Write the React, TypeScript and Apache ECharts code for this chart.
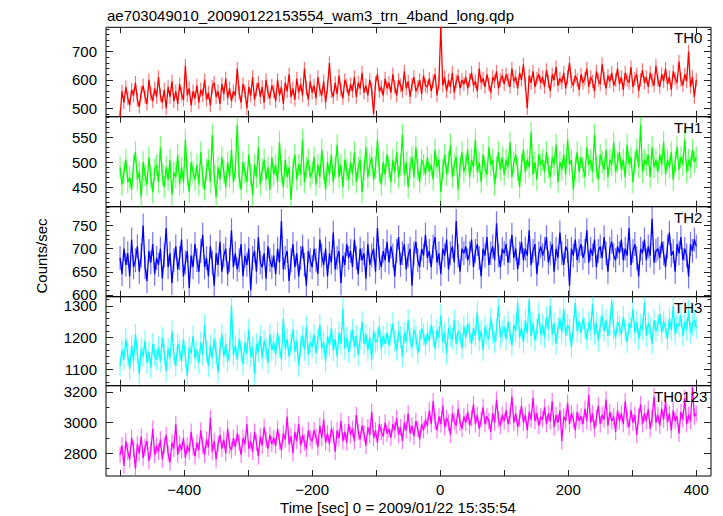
import React, { useEffect, useRef } from "react";
import * as echarts from "echarts";

// ---------- texts ----------
const TITLE = "ae703049010_20090122153554_wam3_trn_4band_long.qdp";
const X_LABEL = "Time [sec] 0 = 2009/01/22 15:35:54";
const Y_LABEL = "Counts/sec";
const PANEL_NAMES = ["TH0", "TH1", "TH2", "TH3", "TH0123"];
const PANEL_COLORS = ["#ff0000", "#00ff00", "#0000ff", "#00ffff", "#ff00ff"];

// ---------- time axis ----------
const TIME_START = -500;
const TIME_END = 400;
const X_MIN = -522;
const X_MAX = 423;
const X_TICKS = [-500, -400, -300, -200, -100, 0, 100, 200, 300, 400];
const X_TICK_LABELS = [-400, -200, 0, 200, 400];

// ---------- y axes ----------
const Y_RANGES = [
  [470, 786],
  [411, 591],
  [596, 791],
  [1048, 1329],
  [2652, 3241],
];
const Y_TICK_LABELS = [
  [500, 600, 700],
  [450, 500, 550],
  [600, 650, 700, 750],
  [1100, 1200, 1300],
  [2800, 3000, 3200],
];
const Y_MINOR_STEP = [20, 10, 10, 20, 100];

// typical 1-sigma error bar half-length per panel (counts/sec)
const PANEL_ERRORS = [24, 22, 26, 34, 54];

// ---------- series values (counts/sec, 3-s bins from -500 to 400 s) ----------
const TH0 = [
  470, 560, 520, 575, 535, 510, 565, 545, 590, 530, 505, 555, 580, 540, 515, 600, 550, 525, 570, 540,
  610, 545, 520, 565, 500, 575, 540, 595, 525, 560, 515, 585, 550, 530, 650, 545, 570, 510, 560, 535,
  580, 520, 565, 545, 600, 530, 555, 510, 575, 590, 540, 560, 515, 585, 550, 605, 535, 570, 525, 560,
  545, 640, 555, 520, 585, 560, 500, 575, 545, 610, 530, 565, 590, 540, 575, 520, 600, 555, 535, 580,
  560, 525, 600, 545, 575, 515, 590, 560, 620, 540, 570, 530, 605, 555, 585, 545, 640, 570, 530, 595,
  555, 580, 535, 610, 565, 545, 595, 520, 575, 660, 560, 540, 590, 550, 615, 565, 535, 600, 580, 545,
  585, 560, 610, 540, 590, 570, 625, 555, 580, 545, 600, 565, 480, 590, 620, 560, 575, 545, 605, 570,
  590, 555, 620, 575, 545, 600, 580, 560, 630, 570, 595, 540, 585, 610, 560, 575, 600, 550, 615, 580,
  575, 605, 560, 595, 620, 545, 590, 790, 580, 610, 560, 600, 575, 625, 555, 595, 615, 570, 600, 585,
  610, 570, 600, 625, 580, 595, 560, 640, 590, 605, 575, 620, 585, 555, 610, 595, 630, 570, 600, 615,
  585, 620, 600, 575, 640, 595, 610, 570, 625, 600, 655, 585, 500, 615, 590, 630, 575, 605, 620, 590,
  610, 575, 635, 595, 560, 620, 600, 645, 580, 605, 590, 625, 570, 610, 660, 595, 580, 615, 600, 565,
  620, 590, 605, 640, 575, 610, 595, 560, 630, 600, 585, 655, 605, 570, 615, 595, 625, 580, 600, 640,
  585, 610, 565, 625, 600, 590, 645, 575, 605, 620, 560, 600, 635, 590, 610, 575, 625, 600, 580, 650,
  600, 575, 620, 595, 640, 585, 610, 565, 630, 605, 590, 665, 600, 580, 620, 595, 700, 575, 610, 540,
  600,
];

const TH1 = [
  490, 455, 480, 505, 460, 470, 445, 495, 520, 465, 480, 430, 500, 475, 455, 510, 470, 440, 485, 495,
  460, 530, 475, 450, 490, 465, 505, 435, 480, 470, 515, 455, 490, 460, 545, 475, 440, 500, 480, 465,
  495, 455, 520, 470, 445, 485, 505, 460, 555, 475, 430, 490, 465, 510, 480, 450, 500, 470, 525, 460,
  485, 575, 470, 445, 500, 480, 460, 515, 475, 435, 495, 470, 530, 455, 485, 505, 465, 490, 445, 510,
  475, 495, 460, 540, 480, 450, 505, 470, 490, 425, 485, 515, 465, 495, 475, 545, 460, 490, 505, 470,
  480, 510, 455, 495, 470, 525, 485, 445, 500, 475, 515, 460, 490, 535, 470, 495, 450, 505, 485, 465,
  500, 475, 520, 460, 490, 505, 440, 485, 530, 470, 495, 510, 465, 490, 545, 480, 455, 500, 475, 515,
  490, 460, 505, 480, 520, 470, 495, 555, 475, 500, 450, 490, 510, 470, 530, 485, 460, 505, 495, 475,
  510, 480, 495, 465, 525, 490, 505, 440, 485, 515, 475, 500, 535, 470, 495, 510, 445, 490, 520, 480,
  495, 525, 470, 505, 490, 545, 480, 500, 460, 515, 490, 475, 530, 495, 505, 455, 490, 520, 485, 510,
  475, 505, 490, 540, 470, 500, 515, 485, 450, 495, 525, 480, 505, 490, 560, 475, 500, 465, 515, 495,
  505, 480, 520, 490, 470, 510, 495, 535, 460, 500, 485, 515, 475, 545, 495, 505, 445, 490, 520, 480,
  510, 490, 470, 530, 495, 505, 480, 555, 490, 465, 515, 500, 485, 525, 470, 505, 495, 540, 480, 500,
  520, 485, 505, 470, 535, 495, 510, 460, 500, 525, 490, 575, 480, 505, 495, 515, 470, 530, 490, 505,
  480, 515, 495, 540, 475, 505, 490, 520, 465, 500, 530, 485, 510, 495, 545, 480, 505, 490, 525, 500,
  510,
];

const TH2 = [
  680, 645, 700, 665, 690, 640, 720, 660, 675, 705, 650, 685, 750, 660, 630, 695, 670, 710, 645, 680,
  665, 700, 635, 685, 745, 660, 690, 625, 675, 705, 655, 680, 720, 640, 670, 695, 615, 685, 660, 710,
  675, 650, 695, 730, 660, 680, 640, 705, 670, 620, 690, 665, 715, 650, 685, 700, 645, 675, 740, 660,
  690, 655, 675, 710, 640, 685, 665, 700, 610, 680, 695, 650, 725, 670, 660, 690, 635, 705, 675, 660,
  685, 645, 700, 670, 760, 655, 680, 695, 630, 675, 710, 660, 690, 640, 680, 705, 665, 620, 695, 675,
  660, 700, 675, 645, 720, 685, 665, 700, 640, 690, 670, 735, 655, 680, 695, 625, 685, 665, 710, 680,
  695, 660, 720, 680, 645, 700, 675, 690, 635, 710, 665, 685, 700, 650, 745, 680, 660, 695, 675, 715,
  670, 705, 685, 640, 695, 725, 665, 690, 710, 655, 685, 700, 620, 690, 715, 675, 660, 700, 685, 730,
  680, 695, 660, 705, 725, 670, 690, 645, 700, 685, 720, 655, 690, 705, 670, 760, 685, 650, 700, 690,
  705, 675, 690, 720, 660, 695, 710, 680, 640, 700, 685, 725, 665, 690, 705, 675, 755, 685, 660, 700,
  690, 710, 670, 695, 730, 680, 700, 655, 690, 715, 675, 700, 685, 740, 665, 695, 710, 645, 690, 705,
  685, 700, 725, 670, 690, 710, 650, 700, 680, 735, 690, 665, 705, 695, 620, 700, 685, 720, 675, 695,
  710, 680, 695, 740, 670, 700, 685, 720, 660, 695, 705, 680, 725, 690, 650, 700, 715, 685, 675, 705,
  690, 720, 675, 700, 685, 745, 665, 695, 710, 680, 640, 700, 690, 720, 675, 705, 685, 765, 670, 695,
  700, 680, 715, 690, 660, 705, 735, 685, 695, 650, 710, 690, 725, 675, 700, 685, 640, 710, 695, 720,
  705,
];

const TH3 = [
  1110, 1160, 1130, 1195, 1145, 1100, 1175, 1125, 1210, 1150, 1085, 1165, 1140, 1190, 1120, 1155, 1105, 1180, 1145, 1130,
  1170, 1125, 1200, 1150, 1095, 1165, 1135, 1220, 1145, 1110, 1180, 1160, 1125, 1195, 1140, 1080, 1170, 1150, 1205, 1135,
  1160, 1120, 1185, 1145, 1240, 1155, 1110, 1175, 1135, 1195, 1150, 1090, 1165, 1210, 1140, 1180, 1125, 1160, 1300, 1145,
  1175, 1130, 1195, 1160, 1115, 1185, 1150, 1225, 1140, 1170, 1085, 1180, 1155, 1205, 1135, 1190, 1165, 1120, 1210, 1160,
  1185, 1145, 1215, 1170, 1130, 1260, 1165, 1195, 1140, 1180, 1225, 1155, 1190, 1110, 1175, 1205, 1160, 1235, 1145, 1185,
  1170, 1210, 1150, 1195, 1240, 1165, 1185, 1125, 1205, 1175, 1230, 1160, 1195, 1140, 1215, 1180, 1290, 1165, 1200, 1155,
  1190, 1225, 1170, 1205, 1145, 1195, 1250, 1180, 1210, 1160, 1200, 1130, 1220, 1185, 1195, 1235, 1165, 1205, 1180, 1215,
  1175, 1210, 1245, 1190, 1160, 1220, 1200, 1140, 1215, 1185, 1255, 1195, 1170, 1225, 1205, 1150, 1190, 1230, 1210, 1175,
  1215, 1190, 1240, 1205, 1165, 1225, 1200, 1270, 1185, 1215, 1150, 1230, 1205, 1195, 1255, 1180, 1220, 1210, 1165, 1235,
  1200, 1245, 1215, 1180, 1230, 1205, 1280, 1190, 1220, 1160, 1235, 1210, 1195, 1260, 1215, 1185, 1225, 1300, 1200, 1220,
  1235, 1195, 1250, 1215, 1175, 1240, 1220, 1310, 1200, 1230, 1185, 1255, 1215, 1320, 1205, 1245, 1190, 1225, 1275, 1210,
  1240, 1200, 1265, 1225, 1300, 1210, 1245, 1180, 1230, 1260, 1215, 1290, 1205, 1240, 1225, 1170, 1235, 1310, 1220, 1250,
  1215, 1260, 1230, 1195, 1250, 1225, 1305, 1210, 1245, 1190, 1235, 1270, 1220, 1255, 1205, 1240, 1315, 1225, 1200, 1250,
  1235, 1210, 1265, 1225, 1185, 1245, 1230, 1290, 1215, 1250, 1195, 1240, 1225, 1310, 1205, 1245, 1230, 1180, 1255, 1220,
  1240, 1275, 1215, 1250, 1230, 1195, 1260, 1225, 1300, 1210, 1245, 1235, 1270, 1205, 1250, 1225, 1285, 1215, 1240, 1255,
  1230,
];

const TH0123 = [
  2790, 2850, 2720, 2880, 2810, 2760, 2900, 2830, 2700, 2860, 2800, 2910, 2770, 2840, 2880, 2750, 2820, 2960, 2790, 2850,
  2810, 2890, 2760, 2850, 2920, 2800, 2740, 2870, 2830, 2990, 2790, 2860, 2820, 2900, 2770, 2850, 2810, 2940, 2840, 2780,
  2870, 2820, 2950, 2850, 2790, 2890, 2840, 3030, 2810, 2880, 2760, 2860, 2920, 2830, 2890, 2800, 2960, 2850, 2820, 2900,
  2840, 2930, 2870, 2790, 2900, 2860, 2990, 2830, 2880, 2810, 2940, 2870, 2780, 2910, 2850, 2970, 2890, 2830, 2920, 2860,
  2900, 2850, 2960, 2880, 2820, 2930, 2890, 3040, 2860, 2910, 2800, 2940, 2880, 2990, 2850, 2920, 2870, 2830, 2950, 2900,
  2880, 2950, 2910, 2840, 2980, 2900, 3020, 2870, 2930, 2860, 2960, 2920, 2810, 2950, 2900, 3010, 2880, 2940, 2870, 2990,
  2920, 2960, 2880, 3050, 2940, 2890, 2980, 2930, 2850, 2970, 2920, 3070, 2900, 2950, 2870, 2990, 2940, 2910, 3000, 2930,
  2960, 2900, 2990, 2950, 3030, 2920, 2970, 2880, 3000, 2950, 3060, 2930, 2980, 2910, 3010, 2960, 2890, 2990, 2950, 3020,
  2980, 3080, 2990, 3140, 3010, 2950, 3040, 2990, 3110, 2970, 3030, 3000, 2920, 3060, 3010, 2980, 3090, 3000, 2960, 3040,
  3000, 3070, 2980, 3030, 3120, 2990, 3050, 2960, 3020, 3100, 2990, 3040, 3010, 2940, 3060, 3000, 3150, 3020, 2980, 3050,
  3010, 3080, 2990, 3040, 3170, 3000, 3060, 2970, 3030, 3110, 3000, 3050, 2950, 3070, 3020, 3160, 3010, 3060, 2980, 3040,
  3020, 3100, 2990, 3060, 3010, 3140, 2970, 3050, 3000, 3080, 2880, 3040, 3010, 3130, 2990, 3060, 3020, 2950, 3070, 3010,
  3040, 2990, 3090, 3010, 3180, 3000, 3060, 2960, 3030, 3110, 2990, 3050, 3020, 3150, 2980, 3070, 3010, 3040, 2940, 3080,
  3010, 3060, 2990, 3140, 3020, 2970, 3080, 3000, 3050, 2920, 3040, 3120, 2990, 3060, 3010, 3090, 2960, 3030, 3170, 3000,
  3050, 2980, 3090, 3020, 3140, 3000, 3060, 2950, 3080, 3010, 3040, 2930, 3070, 3020, 3160, 2990, 3050, 3010, 3230, 3040,
  3060,
];

const SERIES_VALUES = [TH0, TH1, TH2, TH3, TH0123];

// ---------- layout (pixels) ----------
const GRID_LEFT = 106;
const GRID_RIGHT = 12;
const PANEL_TOPS = [27.3, 116.7, 206.7, 296.7, 385.7];
const PANEL_BOTTOM = 476;
const PANEL_LABEL_X = [674, 674, 674, 674, 654];
const FONT = '"Liberation Sans", Arial, Helvetica, sans-serif';

function stepValues(min: number, max: number, step: number) {
  const out: number[] = [];
  for (let v = Math.ceil(min / step) * step; v <= max; v += step) out.push(v);
  return out;
}

function fmt(v: number) {
  return v < 0 ? "\u2212" + Math.abs(v) : String(v);
}

export default function App() {
  const ref = useRef<HTMLDivElement>(null);

  useEffect(() => {
    if (!ref.current) return;
    const chart = echarts.init(ref.current, null, { renderer: "svg" });

    const grids: any[] = [];
    const xAxes: any[] = [];
    const yAxes: any[] = [];
    const series: any[] = [];
    const graphics: any[] = [];

    const tickStyle = { color: "#222", width: 1 };

    SERIES_VALUES.forEach((vals, i) => {
      const top = PANEL_TOPS[i];
      const bottom = i < PANEL_TOPS.length - 1 ? PANEL_TOPS[i + 1] : PANEL_BOTTOM;
      grids.push({
        left: GRID_LEFT,
        right: GRID_RIGHT,
        top,
        height: bottom - top,
        show: true,
        borderColor: "#000",
        borderWidth: 1,
        backgroundColor: "transparent",
      });
      const isLast = i === SERIES_VALUES.length - 1;
      const xBase = xAxes.length;
      // bottom x axis
      xAxes.push({
        gridIndex: i,
        type: "value",
        min: X_MIN,
        max: X_MAX,
        position: "bottom",
        axisLine: { show: false, onZero: false },
        splitLine: { show: false },
        axisTick: {
          show: true,
          inside: true,
          length: 6,
          customValues: X_TICKS,
          lineStyle: tickStyle,
        },
        axisLabel: {
          show: isLast,
          customValues: X_TICK_LABELS,
          formatter: fmt,
          color: "#000",
          fontFamily: FONT,
          fontSize: 15,
          margin: 6,
        },
      });
      // top x axis (ticks only)
      xAxes.push({
        gridIndex: i,
        type: "value",
        min: X_MIN,
        max: X_MAX,
        position: "top",
        axisLine: { show: false, onZero: false },
        splitLine: { show: false },
        axisTick: {
          show: true,
          inside: true,
          length: 6,
          customValues: X_TICKS,
          lineStyle: tickStyle,
        },
        axisLabel: { show: false },
      });
      const [ymin, ymax] = Y_RANGES[i];
      const majors = Y_TICK_LABELS[i];
      const minors = stepValues(ymin, ymax, Y_MINOR_STEP[i]);
      const mk = (position: string, tv: number[], len: number, labels: boolean) => ({
        gridIndex: i,
        type: "value",
        min: ymin,
        max: ymax,
        position,
        axisLine: { show: false, onZero: false },
        splitLine: { show: false },
        axisTick: {
          show: true,
          inside: true,
          length: len,
          customValues: tv,
          lineStyle: tickStyle,
        },
        axisLabel: labels
          ? {
              show: true,
              customValues: majors,
              formatter: (v: number) => String(v),
              color: "#000",
              fontFamily: FONT,
              fontSize: 15,
              margin: 9,
            }
          : { show: false },
      });
      const yBase = yAxes.length;
      yAxes.push(mk("left", majors, 7, true));
      yAxes.push(mk("left", minors, 3.5, false));
      yAxes.push(mk("right", majors, 7, false));
      yAxes.push(mk("right", minors, 3.5, false));

      const n = vals.length;
      const dt = (TIME_END - TIME_START) / (n - 1);
      const err = PANEL_ERRORS[i];
      const data = vals.map((v, k) => [TIME_START + k * dt, v]);
      const color = PANEL_COLORS[i];

      // error bars (light)
      series.push({
        type: "custom",
        xAxisIndex: xBase,
        yAxisIndex: yBase,
        data,
        clip: true,
        silent: true,
        z: 2,
        renderItem: (params: any, api: any) => {
          const t = api.value(0);
          const v = api.value(1);
          const p1 = api.coord([t, v - err]);
          const p2 = api.coord([t, v + err]);
          return {
            type: "line",
            shape: { x1: p1[0], y1: p1[1], x2: p2[0], y2: p2[1] },
            style: { stroke: color, lineWidth: 1.2, opacity: 0.55 },
          };
        },
      });
      // connecting line
      series.push({
        type: "line",
        xAxisIndex: xBase,
        yAxisIndex: yBase,
        data,
        symbol: "none",
        showSymbol: false,
        clip: true,
        silent: true,
        lineStyle: { color, width: 1.3 },
        z: 3,
      });

      graphics.push({
        type: "text",
        x: PANEL_LABEL_X[i],
        y: top + 10.5,
        style: {
          text: PANEL_NAMES[i],
          fill: "#000",
          font: `15px ${FONT}`,
          textAlign: "left",
          textVerticalAlign: "middle",
        },
        z: 10,
      });
    });

    graphics.push({
      type: "text",
      x: 107,
      y: 15,
      style: {
        text: TITLE,
        fill: "#000",
        font: `15px ${FONT}`,
        textAlign: "left",
        textVerticalAlign: "middle",
      },
    });
    graphics.push({
      type: "text",
      x: 398,
      y: 507,
      style: {
        text: X_LABEL,
        fill: "#000",
        font: `15px ${FONT}`,
        textAlign: "center",
        textVerticalAlign: "middle",
      },
    });
    graphics.push({
      type: "text",
      x: 41,
      y: 256,
      rotation: Math.PI / 2,
      style: {
        text: Y_LABEL,
        fill: "#000",
        font: `15px ${FONT}`,
        textAlign: "center",
        textVerticalAlign: "middle",
      },
    });

    chart.setOption({
      animation: false,
      backgroundColor: "#fff",
      grid: grids,
      xAxis: xAxes,
      yAxis: yAxes,
      series,
      graphic: graphics,
    });

    return () => chart.dispose();
  }, []);

  return (
    <div
      ref={ref}
      style={{ position: "absolute", left: 0, top: 0, width: 723, height: 516 }}
    />
  );
}
